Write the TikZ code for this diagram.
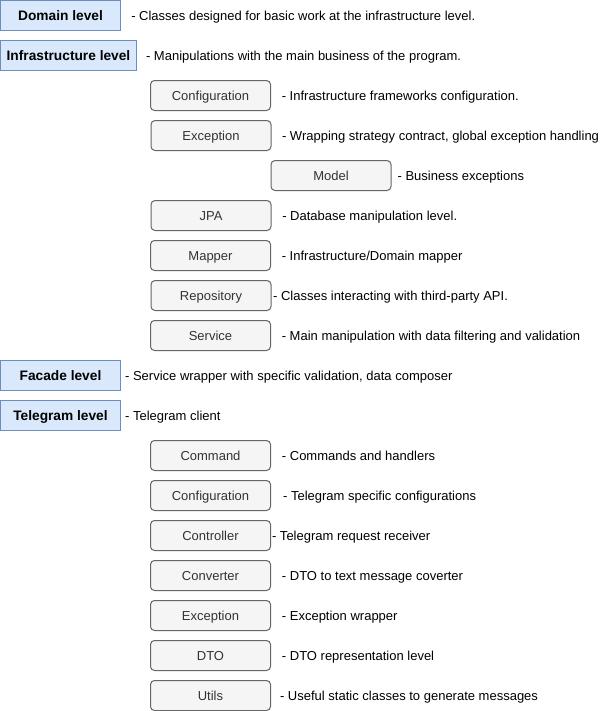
\documentclass[tikz,border=0pt]{standalone}
\usepackage{fontspec}
\setmainfont{Liberation Sans}
\usetikzlibrary{positioning}
\definecolor{lvlfill}{HTML}{DAE8FC}
\definecolor{lvlline}{HTML}{6C8EBF}
\definecolor{pkgfill}{HTML}{F5F5F5}
\definecolor{pkgline}{HTML}{666666}
\definecolor{pkgtext}{HTML}{333333}
\tikzset{
  lvlbox/.style={draw=lvlline, fill=lvlfill, line width=0.75pt,
    minimum width=90pt, minimum height=22.5pt, inner sep=0pt,
    text height=9pt, text depth=1.6pt,
    font=\fontsize{10.3pt}{12pt}\selectfont\bfseries},
  pkgbox/.style={draw=pkgline, fill=pkgfill, line width=0.75pt,
    rounded corners=3pt, minimum width=90pt, minimum height=22.5pt,
    inner sep=0pt, text=pkgtext, text height=8.5pt, text depth=1.5pt,
    font=\fontsize{9.75pt}{11pt}\selectfont},
  note/.style={inner sep=0pt, text=black, text height=8.5pt, text depth=1.5pt,
    font=\fontsize{9.75pt}{11pt}\selectfont},
}
\begin{document}
\begin{tikzpicture}[x=0.75pt, y=-0.75pt]
  \useasboundingbox (0,0) rectangle (611,711);
  % domain and infrastructure
  \node [lvlbox] (domain) at (60.5,15.5) {Domain level};
  \node [note, right=7.5pt of domain] (domainN) {- Classes designed for basic work at the infrastructure level.};
  \node [lvlbox, minimum width=102pt] (infra) at (68.5,55.5) {Infrastructure level};
  \node [note, right=6.6pt of infra] (infraN) {- Manipulations with the main business of the program.};

  \node [pkgbox] (iconf) at (210.5,95.5) {Configuration};
  \node [note, right=7.9pt of iconf] (iconfN) {- Infrastructure frameworks configuration.};
  \node [pkgbox] (iexc) at (211,135.5) {Exception};
  \node [note, right=7.7pt of iexc] (iexcN) {- Wrapping strategy contract, global exception handling};
  \node [pkgbox] (imodel) at (331,175.5) {Model};
  \node [note, right=4.4pt of imodel] (imodelN) {- Business exceptions};
  \node [pkgbox] (ijpa) at (211,215.5) {JPA};
  \node [note, right=7.9pt of ijpa] (ijpaN) {- Database manipulation level.};
  \node [pkgbox] (imap) at (210.5,255.5) {Mapper};
  \node [note, right=7.9pt of imap] (imapN) {- Infrastructure/Domain mapper};
  \node [pkgbox] (irepo) at (211,295.5) {Repository};
  \node [note, right=1pt of irepo] (irepoN) {- Classes interacting with third-party API.};
  \node [pkgbox] (iserv) at (210.5,335.5) {Service};
  \node [note, right=7.9pt of iserv] (iservN) {- Main manipulation with data filtering and validation};

  % facade
  \node [lvlbox] (facade) at (60.5,375.5) {Facade level};
  \node [note, right=2.9pt of facade] (facadeN) {- Service wrapper with specific validation, data composer};

  % telegram
  \node [lvlbox] (tele) at (60.5,415.5) {Telegram level};
  \node [note, right=2.9pt of tele] (teleN) {- Telegram client};

  \node [pkgbox] (tcmd) at (210.5,455.5) {Command};
  \node [note, right=8pt of tcmd] (tcmdN) {- Commands and handlers};
  \node [pkgbox] (tconf) at (210.5,495.5) {Configuration};
  \node [note, right=8.9pt of tconf] (tconfN) {- Telegram specific configurations};
  \node [pkgbox] (tctrl) at (210.5,535.5) {Controller};
  \node [note, right=0.6pt of tctrl] (tctrlN) {- Telegram request receiver};
  \node [pkgbox] (tconv) at (210.5,575.5) {Converter};
  \node [note, right=8pt of tconv] (tconvN) {- DTO to text message coverter};
  \node [pkgbox] (texc) at (210.5,615.5) {Exception};
  \node [note, right=8pt of texc] (texcN) {- Exception wrapper};
  \node [pkgbox] (tdto) at (210.5,655.5) {DTO};
  \node [note, right=8pt of tdto] (tdtoN) {- DTO representation level};
  \node [pkgbox] (tutil) at (210.5,695.5) {Utils};
  \node [note, right=6.6pt of tutil] (tutilN) {- Useful static classes to generate messages};
\end{tikzpicture}
\end{document}
